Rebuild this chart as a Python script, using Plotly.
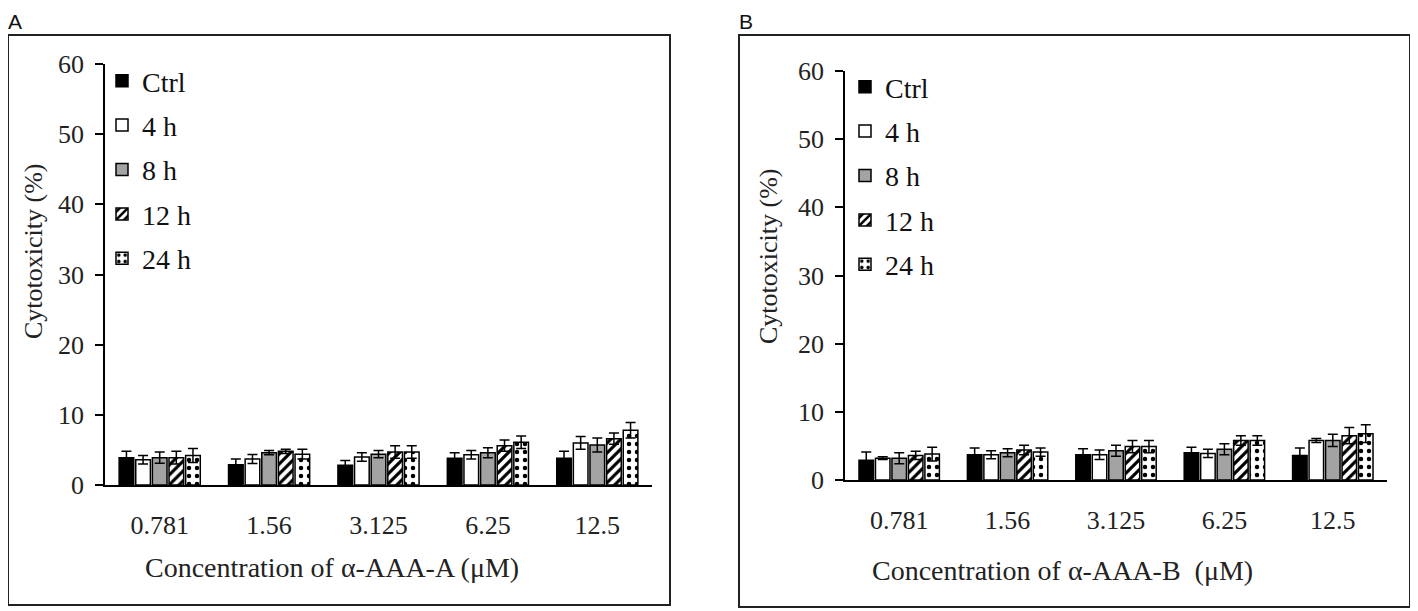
import plotly.graph_objects as go

W, H = 1418, 611
OFF = 8  # the page body adds 8 px around the figure

# --- data ---
concentrations = ["0.781", "1.56", "3.125", "6.25", "12.5"]
series_names = ["Ctrl", "4 h", "8 h", "12 h", "24 h"]

ctrl_a = [3.9, 2.9, 2.8, 3.8, 3.8]
h4_a = [3.6, 3.7, 4.0, 4.3, 6.0]
h8_a = [3.9, 4.6, 4.4, 4.6, 5.7]
h12_a = [3.9, 4.8, 4.7, 5.6, 6.6]
h24_a = [4.2, 4.4, 4.7, 6.1, 7.8]
ctrl_a_err = [0.9, 0.8, 0.7, 0.8, 1.0]
h4_a_err = [0.6, 0.65, 0.6, 0.6, 0.9]
h8_a_err = [0.8, 0.3, 0.5, 0.7, 1.0]
h12_a_err = [0.9, 0.3, 0.9, 0.8, 0.8]
h24_a_err = [1.0, 0.7, 0.9, 0.9, 1.1]

ctrl_b = [2.9, 3.7, 3.7, 4.0, 3.6]
h4_b = [3.2, 3.7, 3.7, 3.9, 5.8]
h8_b = [3.2, 4.0, 4.3, 4.5, 5.8]
h12_b = [3.6, 4.4, 4.9, 5.8, 6.5]
h24_b = [3.8, 4.1, 4.9, 5.8, 6.8]
ctrl_b_err = [1.2, 1.0, 0.9, 0.8, 1.1]
h4_b_err = [0.2, 0.6, 0.7, 0.6, 0.3]
h8_b_err = [0.8, 0.6, 0.8, 0.8, 0.9]
h12_b_err = [0.6, 0.7, 0.9, 0.7, 1.2]
h24_b_err = [1.0, 0.6, 0.9, 0.7, 1.3]

# --- styles per series ---
styles = [
    dict(color="black", pattern=dict(shape="")),
    dict(color="white", pattern=dict(shape="")),
    dict(color="#a3a3a3", pattern=dict(shape="")),
    dict(color="white", pattern=dict(shape="/", fgcolor="black", bgcolor="white",
                                     size=7, solidity=0.45, fillmode="replace")),
    dict(color="white", pattern=dict(shape=".", fgcolor="black", bgcolor="white",
                                     size=8, solidity=0.25, fillmode="replace")),
]


def fx(px):
    return (px - OFF) / W


def fy(py):
    return 1 - (py - OFF) / H


fig = go.Figure()

panels = [
    ("x", "y", "legend", [ctrl_a, h4_a, h8_a, h12_a, h24_a],
     [ctrl_a_err, h4_a_err, h8_a_err, h12_a_err, h24_a_err]),
    ("x2", "y2", "legend2", [ctrl_b, h4_b, h8_b, h12_b, h24_b],
     [ctrl_b_err, h4_b_err, h8_b_err, h12_b_err, h24_b_err]),
]

for xa, ya, leg, vals, errs in panels:
    for i, name in enumerate(series_names):
        st = styles[i]
        fig.add_trace(go.Bar(
            x=concentrations, y=vals[i], name=name,
            xaxis=xa, yaxis=ya, legend=leg, legendgroup=leg + name,
            marker=dict(color=st["color"], pattern=st["pattern"],
                        line=dict(color="black", width=1.5)),
            error_y=dict(type="data", array=errs[i], color="black",
                         thickness=1.5, width=5),
        ))

font_serif = "Liberation Serif"
yaxis_style = dict(range=[0, 60], dtick=10, showline=True, linecolor="black",
                   linewidth=1.5, ticks="outside", ticklen=8, tickwidth=1.5,
                   tickcolor="black", showgrid=False, zeroline=False,
                   automargin=False,
                   tickfont=dict(size=26, family=font_serif, color="#222"),
                   ticklabelstandoff=6)
xaxis_style = dict(type="category", showline=True, linecolor="black", linewidth=2,
                   ticks="", showgrid=False, zeroline=False, automargin=False,
                   tickfont=dict(size=26, family=font_serif, color="#222"),
                   ticklabelstandoff=16)

legend_style = dict(font=dict(size=28, family=font_serif, color="#111"),
                    bgcolor="rgba(0,0,0,0)", tracegroupgap=5,
                    xanchor="left", yanchor="top", itemclick=False)

ann_common = dict(xref="paper", yref="paper", showarrow=False,
                  xanchor="center", yanchor="middle")

fig.update_layout(
    width=W, height=H,
    margin=dict(l=0, r=0, t=0, b=0, pad=0, autoexpand=False),
    paper_bgcolor="white", plot_bgcolor="white",
    barmode="group", bargap=0.24, bargroupgap=0.12,
    font=dict(family=font_serif, color="#222"),
    xaxis=dict(domain=[fx(105), fx(652)], anchor="y", **xaxis_style),
    yaxis=dict(domain=[fy(485), fy(64)], anchor="x", **yaxis_style),
    xaxis2=dict(domain=[fx(845), fx(1387)], anchor="y2", **xaxis_style),
    yaxis2=dict(domain=[fy(480), fy(71)], anchor="x2", **yaxis_style),
    legend=dict(x=fx(102), y=fy(56), **legend_style),
    legend2=dict(x=fx(845), y=fy(62), **legend_style),
    shapes=[
        dict(type="rect", xref="paper", yref="paper",
             x0=fx(8), x1=fx(670), y0=fy(605), y1=fy(35),
             line=dict(color="#222", width=2)),
        dict(type="rect", xref="paper", yref="paper",
             x0=fx(739), x1=fx(1410), y0=fy(607), y1=fy(35),
             line=dict(color="#222", width=2)),
    ],
    annotations=[
        dict(text="A", x=fx(15), y=fy(8), xref="paper", yref="paper",
             showarrow=False, xanchor="center", yanchor="top",
             font=dict(size=21, family="Liberation Sans", color="#111")),
        dict(text="B", x=fx(746), y=fy(8), xref="paper", yref="paper",
             showarrow=False, xanchor="center", yanchor="top",
             font=dict(size=21, family="Liberation Sans", color="#111")),
        dict(text="Cytotoxicity (%)", x=fx(33), y=fy(252), textangle=-90,
             font=dict(size=26, family=font_serif), **ann_common),
        dict(text="Cytotoxicity (%)", x=fx(769), y=fy(257), textangle=-90,
             font=dict(size=26, family=font_serif), **ann_common),
        dict(text="Concentration of α-AAA-A (μM)", x=fx(332), y=fy(567),
             font=dict(size=28, family=font_serif), **ann_common),
        dict(text="Concentration of α-AAA-B  (μM)", x=fx(1062), y=fy(570),
             font=dict(size=28, family=font_serif), **ann_common),
    ],
)

fig.write_html("out.html")
